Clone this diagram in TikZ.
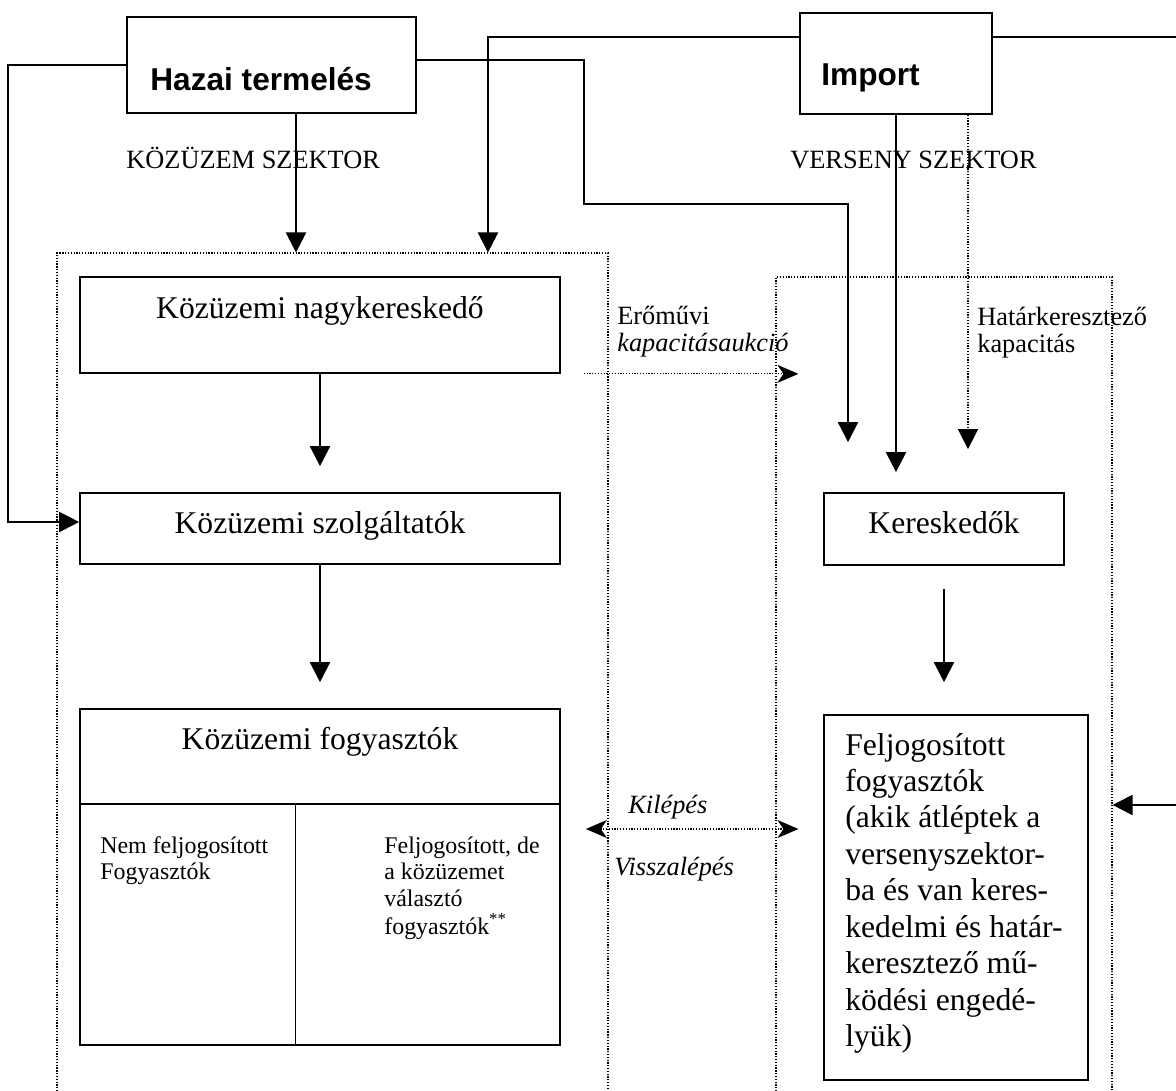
\documentclass[tikz,border=0pt]{standalone}
\usepackage{fontspec}
\setmainfont{Liberation Serif}
\newfontfamily\boldsans{Liberation Sans}
\usetikzlibrary{arrows.meta,calc}
\newcommand\myBig{\fontsize{18pt}{20.75pt}\selectfont}
\newcommand\myLab{\fontsize{15pt}{15.9pt}\selectfont}
\newcommand\myCell{\fontsize{13.6pt}{15.1pt}\selectfont}
\newcommand\myHead{\boldsans\bfseries\fontsize{18pt}{21pt}\selectfont}
\begin{document}
\begin{tikzpicture}[x=0.02cm,y=-0.02cm,
  box/.style={draw,line width=1pt,inner sep=0},
  txt/.style={inner sep=0,anchor=base},
  ltxt/.style={inner sep=0,anchor=base west},
  conn/.style={line width=1.2pt,-{Triangle[length=0.4cm,width=0.4cm]}},
  dotline/.style={line width=0.7pt,dash pattern=on 0.7pt off 0.9pt},
  dotconn/.style={dotline,-{Triangle[length=0.4cm,width=0.4cm]}},
  stconn/.style={dotline,-{Stealth[length=0.42cm,width=0.36cm,inset=0.12cm]}},
  ststconn/.style={dotline,{Stealth[length=0.42cm,width=0.36cm,inset=0.12cm]}-{Stealth[length=0.42cm,width=0.36cm,inset=0.12cm]}},
  container/.style={draw,dotline,inner sep=0},
]
\useasboundingbox (0,0) rectangle (1176,1091);
\clip (0,0) rectangle (1176,1091);

% dotted sector frames
\node[container,minimum width=11.02cm,minimum height=17.34cm] (lcont) at (332.5,686.5) {};
\node[container,minimum width=6.72cm,minimum height=16.86cm] (rcont) at (944,698.5) {};

% boxes
\node[box,minimum width=5.78cm,minimum height=1.92cm] (hazai) at (271.5,65) {};
\node[box,minimum width=3.84cm,minimum height=2.02cm] (import) at (896,63.5) {};
\node[box,minimum width=9.6cm,minimum height=1.92cm] (nagy) at (320,325) {};
\node[box,minimum width=9.6cm,minimum height=1.42cm] (szolg) at (320,528.5) {};
\node[box,minimum width=9.6cm,minimum height=6.72cm] (fogy) at (320,877) {};
\node[box,minimum width=4.8cm,minimum height=1.44cm] (keres) at (944,529) {};
\node[box,minimum width=5.28cm,minimum height=7.3cm] (feljog) at (956,897.5) {};

% dividers of the consumer box
\coordinate (dl) at ([yshift=-1.92cm]fogy.north west);
\coordinate (dr) at ([yshift=-1.92cm]fogy.north east);
\draw[line width=1pt] (dl) -- (dr);
\coordinate (dv) at ($(fogy.south west)+(216,0)$);
\draw[line width=0.7pt] (dv) -- (dv |- dl);

% texts
\node[ltxt,font=\myHead] (hazaitxt) at (150,91) {Hazai termelés};
\node[ltxt,font=\myHead] (importtxt) at (821,86) {Import};
\node[ltxt,font=\myLab] (kozszek) at (126,169) {KÖZÜZEM SZEKTOR};
\node[ltxt,font=\myLab] (verszek) at (790,169) {VERSENY SZEKTOR};
\node[ltxt,font=\myLab] (eromu) at (617,324) {\begin{tabular}[t]{@{}l@{}}Erőművi\\ \textit{kapacitásaukció}\end{tabular}};
\node[ltxt,font=\myLab] (hatar) at (977,325) {\begin{tabular}[t]{@{}l@{}}Határkeresztező\\ kapacitás\end{tabular}};
\node[txt,font=\myBig] (nagytxt) at (320,318) {Közüzemi nagykereskedő};
\node[txt,font=\myBig] (szolgtxt) at (320,533) {Közüzemi szolgáltatók};
\node[txt,font=\myBig] (kerestxt) at (944,533) {Kereskedők};
\node[txt,font=\myBig] (fogytxt) at (320,749) {Közüzemi fogyasztók};
\node[ltxt,font=\myCell] (cellL) at (100,853) {\begin{tabular}[t]{@{}l@{}}Nem feljogosított\\ Fogyasztók\end{tabular}};
\node[ltxt,font=\myCell] (cellR) at (384,853) {\begin{tabular}[t]{@{}l@{}}Feljogosított, de\\ a közüzemet\\ választó\\ fogyasztók\textsuperscript{**}\end{tabular}};
\node[ltxt,font=\myBig] (feljogtxt) at (845,755) {\begin{tabular}[t]{@{}l@{}}Feljogosított\\ fogyasztók\\ (akik átléptek a\\ versenyszektor-\\ ba és van keres-\\ kedelmi és határ-\\ keresztező mű-\\ ködési engedé-\\ lyük)\end{tabular}};
\node[ltxt,font=\myLab] (kilep) at (628,813) {\textit{Kilépés}};
\node[ltxt,font=\myLab] (vissza) at (614,875) {\textit{Visszalépés}};

% connectors
\coordinate (lcol) at (8,300);
\draw[conn] (hazai.west) -| (lcol) |- ([yshift=0.13cm]szolg.west);

\coordinate (hs) at ([xshift=0.49cm]hazai.south);
\draw[conn] (hs) -- (hs |- lcont.north);

\coordinate (he) at ([yshift=0.1cm]hazai.east);
\coordinate (bendA) at (584,204);
\coordinate (kin1) at ([shift={(-1.92cm,1cm)}]keres.north);
\draw[conn] (he) -| (bendA) -| (kin1);

\coordinate (iw) at ([yshift=0.53cm]import.west);
\coordinate (ldrop) at ([xshift=3.11cm]lcont.north);
\draw[conn] (iw) -| (ldrop);

\coordinate (ie) at ([yshift=0.53cm]import.east);
\coordinate (rcol) at (1195,400);
\coordinate (rin) at ([yshift=-2.13cm]rcont.east);
\draw[conn] (ie) -| (rcol) |- (rin);

\coordinate (kin2) at ([yshift=0.4cm]keres.north);
\draw[conn] (import.south) -- (import.south |- kin2);
\coordinate (is) at ([xshift=1.44cm]import.south);
\coordinate (kin3) at ([yshift=0.86cm]keres.north);
\draw[dotconn] (is) -- (is |- kin3);

\draw[conn] (nagy.south) -- ([yshift=0.52cm]szolg.north);
\draw[conn] (szolg.south) -- ([yshift=0.52cm]fogy.north);
\coordinate (kout) at ([yshift=-0.46cm]keres.south);
\coordinate (fin) at ([yshift=0.64cm]feljog.north);
\draw[conn] (kout) -- (kout |- fin);

\coordinate (ea) at ([xshift=0.46cm]nagy.south east);
\draw[stconn] (ea) -- ($(ea -| rcont.west)+(23,0)$);

\coordinate (ka) at ([shift={(0.5cm,0.96cm)}]fogy.east);
\draw[ststconn] (ka) -- ($(ka -| rcont.west)+(23,0)$);
\end{tikzpicture}
\end{document}
